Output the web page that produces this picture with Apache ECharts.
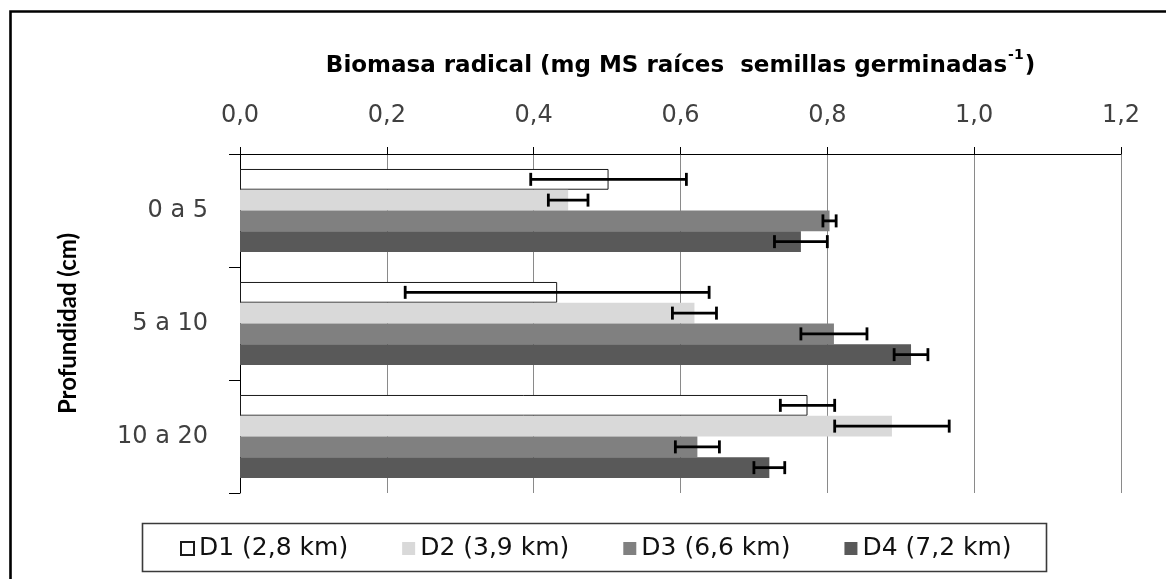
<!DOCTYPE html>
<html>
<head>
<meta charset="utf-8">
<script src="https://cdn.jsdelivr.net/npm/echarts@6/dist/echarts.min.js"></script>
<style>
  html, body { margin: 0; padding: 0; background: #fff; }
  #chart { width: 1166px; height: 579px; }
</style>
</head>
<body>
<div id="chart"></div>
<script>
// Soil depth classes (rows) and distance treatments (series)
const depths = ['0 a 5', '5 a 10', '10 a 20'];
const seriesNames = ['D1 (2,8 km)', 'D2 (3,9 km)', 'D3 (6,6 km)', 'D4 (7,2 km)'];

// Root biomass means per depth
const d1 = [0.502, 0.432, 0.773];
const d2 = [0.447, 0.619, 0.888];
const d3 = [0.803, 0.809, 0.623];
const d4 = [0.764, 0.914, 0.721];

// Error bar half-widths per depth
const d1Err = [0.106, 0.207, 0.037];
const d2Err = [0.027, 0.030, 0.078];
const d3Err = [0.009, 0.045, 0.030];
const d4Err = [0.036, 0.023, 0.021];

// Value axis tick labels (decimal comma)
const xTickLabels = ['0,0', '0,2', '0,4', '0,6', '0,8', '1,0', '1,2'];

const means = [d1, d2, d3, d4];
const errs = [d1Err, d2Err, d3Err, d4Err];
const fills = ['#ffffff', '#d9d9d9', '#808080', '#595959'];
const CAT_GAP = 0.265;

const errorData = [];
means.forEach((m, s) => {
  m.forEach((v, c) => {
    errorData.push([c, s, v - errs[s][c], v + errs[s][c]]);
  });
});

const barSeries = seriesNames.map((name, s) => ({
  name: name,
  type: 'bar',
  data: means[s],
  barGap: '0%',
  barCategoryGap: (CAT_GAP * 100) + '%',
  itemStyle: s === 0
    ? { color: fills[s], borderColor: '#1a1a1a', borderWidth: 1 }
    : { color: fills[s] },
  emphasis: { disabled: true },
  z: 2
}));

const errorSeries = {
  type: 'custom',
  name: 'err',
  data: errorData,
  encode: { x: [2, 3], y: 0 },
  z: 5,
  silent: true,
  renderItem: function (params, api) {
    const cat = api.value(0);
    const s = api.value(1);
    const lo = api.coord([api.value(2), cat]);
    const hi = api.coord([api.value(3), cat]);
    const band = api.size([0, 1])[1];
    const groupW = band * (1 - CAT_GAP);
    const barH = groupW / seriesNames.length;
    const y = lo[1] - groupW / 2 + barH * (s + 0.5);
    const cap = 6.5;
    const st = { stroke: '#000', lineWidth: 2.8 };
    return {
      type: 'group',
      children: [
        { type: 'line', shape: { x1: lo[0], y1: y, x2: hi[0], y2: y }, style: st },
        { type: 'line', shape: { x1: lo[0], y1: y - cap, x2: lo[0], y2: y + cap }, style: st },
        { type: 'line', shape: { x1: hi[0], y1: y - cap, x2: hi[0], y2: y + cap }, style: st }
      ]
    };
  }
};

const chart = echarts.init(document.getElementById('chart'), null, { renderer: 'canvas' });

chart.setOption({
  animation: false,
  backgroundColor: '#ffffff',
  grid: { left: 240, right: 45, top: 154, bottom: 86, containLabel: false, outerBoundsMode: 'none' },
  xAxis: {
    type: 'value',
    position: 'top',
    min: 0,
    max: 1.2,
    interval: 0.2,
    name: '{t|Biomasa radical (mg MS raíces  semillas germinadas}{sup|-1}{t|)}',
    nameLocation: 'middle',
    nameGap: 76,
    nameTextStyle: {
      rich: {
        t: { fontFamily: 'DejaVu Sans', fontWeight: 'bold', fontSize: 23, color: '#000', lineHeight: 30, verticalAlign: 'bottom' },
        sup: { fontFamily: 'DejaVu Sans', fontWeight: 'bold', fontSize: 14, color: '#000', lineHeight: 30, verticalAlign: 'top', padding: [0, 1, 0, 1] }
      }
    },
    axisLine: { show: true, lineStyle: { color: '#000', width: 1 } },
    axisTick: { show: true, length: 7, lineStyle: { color: '#000', width: 1 } },
    axisLabel: {
      margin: 26,
      fontFamily: 'DejaVu Sans',
      fontSize: 24,
      color: '#404040',
      formatter: function (v) { return xTickLabels[Math.round(v / 0.2)]; }
    },
    splitLine: { show: true, lineStyle: { color: '#8a8a8a', width: 1 } }
  },
  yAxis: {
    type: 'category',
    data: depths,
    inverse: true,
    name: 'Profundidad (cm)',
    nameLocation: 'middle',
    nameRotate: 90,
    nameGap: 160,
    nameTextStyle: { fontFamily: 'Lato', fontWeight: 'bold', fontSize: 24, color: '#000' },
    axisLine: { show: true, lineStyle: { color: '#000', width: 1 } },
    axisTick: { show: true, length: 11, lineStyle: { color: '#000', width: 1 } },
    axisLabel: { margin: 32, fontFamily: 'DejaVu Sans', fontSize: 24, color: '#404040' },
    splitLine: { show: false }
  },
  legend: {
    data: seriesNames,
    orient: 'horizontal',
    left: 180,
    top: 536,
    padding: 0,
    itemWidth: 13,
    itemHeight: 13,
    itemGap: 54,
    icon: 'rect',
    selectedMode: false,
    textStyle: { fontFamily: 'DejaVu Sans', fontSize: 25, color: '#111' }
  },
  graphic: [
    {
      type: 'rect',
      silent: true,
      z: 100,
      shape: { x: 10.5, y: 11.5, width: 1300, height: 700 },
      style: { fill: 'none', stroke: '#000', lineWidth: 2.6 }
    },
    {
      type: 'rect',
      silent: true,
      z: 100,
      shape: { x: 142.5, y: 523.5, width: 904, height: 48 },
      style: { fill: 'none', stroke: '#3a3a3a', lineWidth: 1.6 }
    }
  ],
  series: barSeries.concat([errorSeries])
});
</script>
</body>
</html>
